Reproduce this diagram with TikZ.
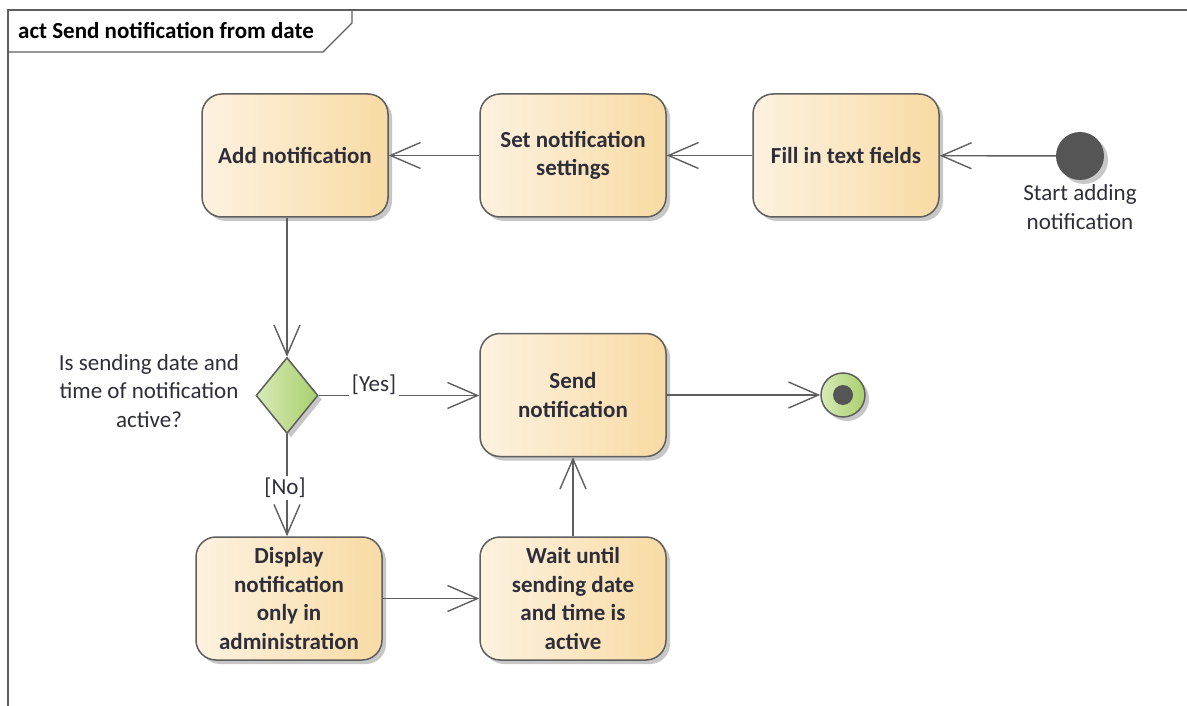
\documentclass[tikz,border=0pt]{standalone}
\usepackage{fontspec}
\setmainfont{Carlito}
\usetikzlibrary{arrows.meta,shapes.geometric,shadows}
\definecolor{ln}{HTML}{5E5E5E}
\definecolor{txt}{HTML}{2E2E3A}
\definecolor{boxL}{HTML}{FDF2E0}
\definecolor{boxR}{HTML}{F8DBA4}
\definecolor{grL}{HTML}{D8EAB8}
\definecolor{grR}{HTML}{A8D06C}
\definecolor{dot}{HTML}{555555}
\tikzset{
  shad/.style={drop shadow={shadow xshift=4pt,shadow yshift=-4pt,fill=black,opacity=0.22}},
  action/.style={rectangle, rounded corners=20pt, draw=ln, line width=1.5pt,
    left color=boxL, right color=boxR, minimum width=186pt, minimum height=123pt,
    align=center, inner sep=2pt, text=txt,
    font=\bfseries\fontsize{23}{28.7}\selectfont, shad},
  decis/.style={diamond, draw=ln, line width=1.5pt, left color=grL, right color=grR,
    minimum width=62pt, minimum height=76pt, inner sep=0pt, shad},
  lbl/.style={text=txt, font=\fontsize{23}{28.2}\selectfont, align=center},
  flow/.style={draw=ln, line width=1.4pt, -{Straight Barb[length=30pt,width=26pt,line width=1.4pt]}},
}
\begin{document}
\begin{tikzpicture}[x=1pt,y=-1pt]
\useasboundingbox (0,0) rectangle (1187,706);
% frame
\draw[ln, line width=1.4pt] (8,706) -- (8,10) -- (1187,10);
\draw[ln, line width=1.4pt] (8,52) -- (323,52) -- (352,23) -- (352,10);
\node[anchor=west, text=black, inner sep=0pt, font=\bfseries\fontsize{23}{26}\selectfont] (title) at (18,31) {act Send notification from date};
% nodes
\node[action] (add) at (295,155.5) {Add notification};
\node[action] (set) at (573,155.5) {Set notification\\settings};
\node[action] (fill) at (846,155.5) {Fill in text fields};
\node[circle, fill=dot, minimum size=48pt, inner sep=0pt, shad] (start) at (1080,156) {};
\node[lbl] (startlbl) at (1080,207) {Start adding\\notification};
\node[decis] (dec) at (287,395.5) {};
\node[lbl] (q) at (149,391) {Is sending date and\\time of notification\\active?};
\node[action] (send) at (573,395) {Send\\notification};
\node[circle, draw=ln, line width=1.5pt, left color=grL, right color=grR, minimum size=44pt, inner sep=0pt, shad,
  path picture={\fill[dot] (path picture bounding box.center) circle (10pt);}] (end) at (843,395) {};
\node[action] (disp) at (289,598.5) {Display\\notification\\only in\\administration};
\node[action] (wait) at (573,598.5) {Wait until\\sending date\\and time is\\active};
% edges
\draw[flow] (start) -- (fill);
\draw[flow] (fill) -- (set);
\draw[flow] (set) -- (add);
\draw[flow] (add.south -| dec.north) -- (dec.north);
\draw[flow] (dec.east) -- node[lbl, fill=white, inner sep=3pt, yshift=11pt, xshift=-25pt] (yes) {[Yes]} (send.west |- dec.east);
\draw[flow] (dec.south) -- node[lbl, fill=white, inner sep=2pt, xshift=-2pt, yshift=-3pt] (no) {[No]} (disp.north -| dec.south);
\draw[flow] (disp) -- (wait);
\draw[flow] (wait) -- (send);
\draw[flow] (send.east |- end.west) -- (end.west);
\end{tikzpicture}
\end{document}
